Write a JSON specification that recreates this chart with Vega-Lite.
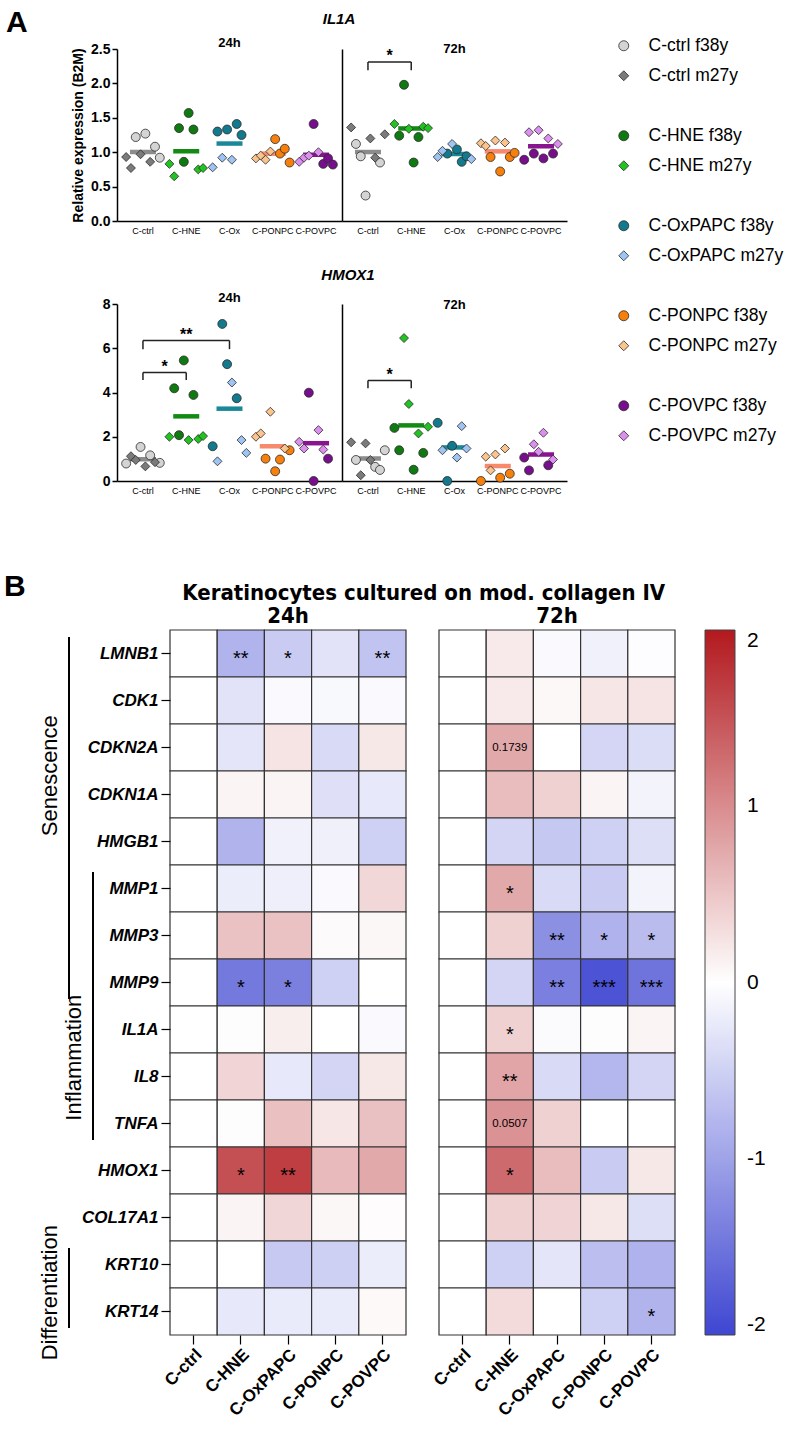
{
"$schema": "https://vega.github.io/schema/vega-lite/v6.json",
"padding": {"left": 3, "top": 8, "right": 0, "bottom": 0},
"config": {
  "view": {"stroke": null},
  "font": "Liberation Sans",
  "axis": {"grid": false, "labelColor": "#000", "titleColor": "#000", "domainColor": "#000", "tickColor": "#000"},
  "title": {"color": "#000"},
  "legend": {"labelColor": "#000"}
},
"datasets": {
  "scatter": [
    {"gene":"IL1A","time":"24h","group":"C-ctrl","series":"C-ctrl f38y","rep":3,"value":1.22},
    {"gene":"IL1A","time":"24h","group":"C-ctrl","series":"C-ctrl f38y","rep":5,"value":1.27},
    {"gene":"IL1A","time":"24h","group":"C-ctrl","series":"C-ctrl f38y","rep":7,"value":1.08},
    {"gene":"IL1A","time":"24h","group":"C-ctrl","series":"C-ctrl f38y","rep":8,"value":0.92},
    {"gene":"IL1A","time":"24h","group":"C-ctrl","series":"C-ctrl m27y","rep":1,"value":0.93},
    {"gene":"IL1A","time":"24h","group":"C-ctrl","series":"C-ctrl m27y","rep":2,"value":0.77},
    {"gene":"IL1A","time":"24h","group":"C-ctrl","series":"C-ctrl m27y","rep":4,"value":0.97},
    {"gene":"IL1A","time":"24h","group":"C-ctrl","series":"C-ctrl m27y","rep":6,"value":0.86},
    {"gene":"IL1A","time":"24h","group":"C-HNE","series":"C-HNE f38y","rep":3,"value":1.35},
    {"gene":"IL1A","time":"24h","group":"C-HNE","series":"C-HNE f38y","rep":4,"value":0.86},
    {"gene":"IL1A","time":"24h","group":"C-HNE","series":"C-HNE f38y","rep":5,"value":1.57},
    {"gene":"IL1A","time":"24h","group":"C-HNE","series":"C-HNE f38y","rep":6,"value":1.33},
    {"gene":"IL1A","time":"24h","group":"C-HNE","series":"C-HNE m27y","rep":1,"value":0.83},
    {"gene":"IL1A","time":"24h","group":"C-HNE","series":"C-HNE m27y","rep":2,"value":0.65},
    {"gene":"IL1A","time":"24h","group":"C-HNE","series":"C-HNE m27y","rep":7,"value":0.75},
    {"gene":"IL1A","time":"24h","group":"C-HNE","series":"C-HNE m27y","rep":8,"value":0.77},
    {"gene":"IL1A","time":"24h","group":"C-Ox","series":"C-OxPAPC f38y","rep":2,"value":1.30},
    {"gene":"IL1A","time":"24h","group":"C-Ox","series":"C-OxPAPC f38y","rep":4,"value":1.33},
    {"gene":"IL1A","time":"24h","group":"C-Ox","series":"C-OxPAPC f38y","rep":6,"value":1.41},
    {"gene":"IL1A","time":"24h","group":"C-Ox","series":"C-OxPAPC f38y","rep":7,"value":1.25},
    {"gene":"IL1A","time":"24h","group":"C-Ox","series":"C-OxPAPC m27y","rep":1,"value":0.78},
    {"gene":"IL1A","time":"24h","group":"C-Ox","series":"C-OxPAPC m27y","rep":3,"value":0.92},
    {"gene":"IL1A","time":"24h","group":"C-Ox","series":"C-OxPAPC m27y","rep":5,"value":0.89},
    {"gene":"IL1A","time":"24h","group":"C-PONPC","series":"C-PONPC f38y","rep":5,"value":1.19},
    {"gene":"IL1A","time":"24h","group":"C-PONPC","series":"C-PONPC f38y","rep":6,"value":0.98},
    {"gene":"IL1A","time":"24h","group":"C-PONPC","series":"C-PONPC f38y","rep":7,"value":1.05},
    {"gene":"IL1A","time":"24h","group":"C-PONPC","series":"C-PONPC f38y","rep":8,"value":0.85},
    {"gene":"IL1A","time":"24h","group":"C-PONPC","series":"C-PONPC m27y","rep":1,"value":0.91},
    {"gene":"IL1A","time":"24h","group":"C-PONPC","series":"C-PONPC m27y","rep":2,"value":0.95},
    {"gene":"IL1A","time":"24h","group":"C-PONPC","series":"C-PONPC m27y","rep":3,"value":0.89},
    {"gene":"IL1A","time":"24h","group":"C-PONPC","series":"C-PONPC m27y","rep":4,"value":1.01},
    {"gene":"IL1A","time":"24h","group":"C-POVPC","series":"C-POVPC f38y","rep":4,"value":1.41},
    {"gene":"IL1A","time":"24h","group":"C-POVPC","series":"C-POVPC f38y","rep":6,"value":0.83},
    {"gene":"IL1A","time":"24h","group":"C-POVPC","series":"C-POVPC f38y","rep":7,"value":0.91},
    {"gene":"IL1A","time":"24h","group":"C-POVPC","series":"C-POVPC f38y","rep":8,"value":0.82},
    {"gene":"IL1A","time":"24h","group":"C-POVPC","series":"C-POVPC m27y","rep":1,"value":0.86},
    {"gene":"IL1A","time":"24h","group":"C-POVPC","series":"C-POVPC m27y","rep":2,"value":0.92},
    {"gene":"IL1A","time":"24h","group":"C-POVPC","series":"C-POVPC m27y","rep":3,"value":0.95},
    {"gene":"IL1A","time":"24h","group":"C-POVPC","series":"C-POVPC m27y","rep":5,"value":1.00},
    {"gene":"IL1A","time":"72h","group":"C-ctrl","series":"C-ctrl f38y","rep":2,"value":1.12},
    {"gene":"IL1A","time":"72h","group":"C-ctrl","series":"C-ctrl f38y","rep":3,"value":0.94},
    {"gene":"IL1A","time":"72h","group":"C-ctrl","series":"C-ctrl f38y","rep":4,"value":0.37},
    {"gene":"IL1A","time":"72h","group":"C-ctrl","series":"C-ctrl f38y","rep":7,"value":0.85},
    {"gene":"IL1A","time":"72h","group":"C-ctrl","series":"C-ctrl m27y","rep":1,"value":1.36},
    {"gene":"IL1A","time":"72h","group":"C-ctrl","series":"C-ctrl m27y","rep":5,"value":1.20},
    {"gene":"IL1A","time":"72h","group":"C-ctrl","series":"C-ctrl m27y","rep":6,"value":0.92},
    {"gene":"IL1A","time":"72h","group":"C-ctrl","series":"C-ctrl m27y","rep":8,"value":1.26},
    {"gene":"IL1A","time":"72h","group":"C-HNE","series":"C-HNE f38y","rep":2,"value":1.24},
    {"gene":"IL1A","time":"72h","group":"C-HNE","series":"C-HNE f38y","rep":3,"value":1.98},
    {"gene":"IL1A","time":"72h","group":"C-HNE","series":"C-HNE f38y","rep":5,"value":0.85},
    {"gene":"IL1A","time":"72h","group":"C-HNE","series":"C-HNE f38y","rep":6,"value":1.22},
    {"gene":"IL1A","time":"72h","group":"C-HNE","series":"C-HNE m27y","rep":1,"value":1.41},
    {"gene":"IL1A","time":"72h","group":"C-HNE","series":"C-HNE m27y","rep":4,"value":1.34},
    {"gene":"IL1A","time":"72h","group":"C-HNE","series":"C-HNE m27y","rep":7,"value":1.37},
    {"gene":"IL1A","time":"72h","group":"C-HNE","series":"C-HNE m27y","rep":8,"value":1.35},
    {"gene":"IL1A","time":"72h","group":"C-Ox","series":"C-OxPAPC f38y","rep":3,"value":0.98},
    {"gene":"IL1A","time":"72h","group":"C-Ox","series":"C-OxPAPC f38y","rep":5,"value":1.04},
    {"gene":"IL1A","time":"72h","group":"C-Ox","series":"C-OxPAPC f38y","rep":6,"value":0.86},
    {"gene":"IL1A","time":"72h","group":"C-Ox","series":"C-OxPAPC f38y","rep":7,"value":0.94},
    {"gene":"IL1A","time":"72h","group":"C-Ox","series":"C-OxPAPC m27y","rep":1,"value":0.93},
    {"gene":"IL1A","time":"72h","group":"C-Ox","series":"C-OxPAPC m27y","rep":2,"value":1.02},
    {"gene":"IL1A","time":"72h","group":"C-Ox","series":"C-OxPAPC m27y","rep":4,"value":1.12},
    {"gene":"IL1A","time":"72h","group":"C-Ox","series":"C-OxPAPC m27y","rep":8,"value":0.90},
    {"gene":"IL1A","time":"72h","group":"C-PONPC","series":"C-PONPC f38y","rep":3,"value":0.93},
    {"gene":"IL1A","time":"72h","group":"C-PONPC","series":"C-PONPC f38y","rep":5,"value":0.72},
    {"gene":"IL1A","time":"72h","group":"C-PONPC","series":"C-PONPC f38y","rep":7,"value":0.93},
    {"gene":"IL1A","time":"72h","group":"C-PONPC","series":"C-PONPC f38y","rep":8,"value":0.99},
    {"gene":"IL1A","time":"72h","group":"C-PONPC","series":"C-PONPC m27y","rep":1,"value":1.13},
    {"gene":"IL1A","time":"72h","group":"C-PONPC","series":"C-PONPC m27y","rep":2,"value":1.09},
    {"gene":"IL1A","time":"72h","group":"C-PONPC","series":"C-PONPC m27y","rep":4,"value":1.17},
    {"gene":"IL1A","time":"72h","group":"C-PONPC","series":"C-PONPC m27y","rep":6,"value":1.14},
    {"gene":"IL1A","time":"72h","group":"C-POVPC","series":"C-POVPC f38y","rep":1,"value":0.89},
    {"gene":"IL1A","time":"72h","group":"C-POVPC","series":"C-POVPC f38y","rep":3,"value":0.98},
    {"gene":"IL1A","time":"72h","group":"C-POVPC","series":"C-POVPC f38y","rep":5,"value":0.91},
    {"gene":"IL1A","time":"72h","group":"C-POVPC","series":"C-POVPC f38y","rep":7,"value":0.98},
    {"gene":"IL1A","time":"72h","group":"C-POVPC","series":"C-POVPC m27y","rep":2,"value":1.29},
    {"gene":"IL1A","time":"72h","group":"C-POVPC","series":"C-POVPC m27y","rep":4,"value":1.32},
    {"gene":"IL1A","time":"72h","group":"C-POVPC","series":"C-POVPC m27y","rep":6,"value":1.20},
    {"gene":"IL1A","time":"72h","group":"C-POVPC","series":"C-POVPC m27y","rep":8,"value":1.12},
    {"gene":"HMOX1","time":"24h","group":"C-ctrl","series":"C-ctrl f38y","rep":1,"value":0.79},
    {"gene":"HMOX1","time":"24h","group":"C-ctrl","series":"C-ctrl f38y","rep":4,"value":1.54},
    {"gene":"HMOX1","time":"24h","group":"C-ctrl","series":"C-ctrl f38y","rep":6,"value":1.16},
    {"gene":"HMOX1","time":"24h","group":"C-ctrl","series":"C-ctrl f38y","rep":8,"value":0.82},
    {"gene":"HMOX1","time":"24h","group":"C-ctrl","series":"C-ctrl m27y","rep":2,"value":1.12},
    {"gene":"HMOX1","time":"24h","group":"C-ctrl","series":"C-ctrl m27y","rep":3,"value":0.95},
    {"gene":"HMOX1","time":"24h","group":"C-ctrl","series":"C-ctrl m27y","rep":5,"value":0.66},
    {"gene":"HMOX1","time":"24h","group":"C-ctrl","series":"C-ctrl m27y","rep":7,"value":0.85},
    {"gene":"HMOX1","time":"24h","group":"C-HNE","series":"C-HNE f38y","rep":2,"value":4.19},
    {"gene":"HMOX1","time":"24h","group":"C-HNE","series":"C-HNE f38y","rep":3,"value":2.07},
    {"gene":"HMOX1","time":"24h","group":"C-HNE","series":"C-HNE f38y","rep":4,"value":5.45},
    {"gene":"HMOX1","time":"24h","group":"C-HNE","series":"C-HNE f38y","rep":6,"value":3.89},
    {"gene":"HMOX1","time":"24h","group":"C-HNE","series":"C-HNE m27y","rep":1,"value":2.00},
    {"gene":"HMOX1","time":"24h","group":"C-HNE","series":"C-HNE m27y","rep":5,"value":1.85},
    {"gene":"HMOX1","time":"24h","group":"C-HNE","series":"C-HNE m27y","rep":7,"value":1.90},
    {"gene":"HMOX1","time":"24h","group":"C-HNE","series":"C-HNE m27y","rep":8,"value":2.03},
    {"gene":"HMOX1","time":"24h","group":"C-Ox","series":"C-OxPAPC f38y","rep":1,"value":1.57},
    {"gene":"HMOX1","time":"24h","group":"C-Ox","series":"C-OxPAPC f38y","rep":3,"value":7.10},
    {"gene":"HMOX1","time":"24h","group":"C-Ox","series":"C-OxPAPC f38y","rep":4,"value":5.28},
    {"gene":"HMOX1","time":"24h","group":"C-Ox","series":"C-OxPAPC f38y","rep":6,"value":3.74},
    {"gene":"HMOX1","time":"24h","group":"C-Ox","series":"C-OxPAPC m27y","rep":2,"value":0.89},
    {"gene":"HMOX1","time":"24h","group":"C-Ox","series":"C-OxPAPC m27y","rep":5,"value":4.45},
    {"gene":"HMOX1","time":"24h","group":"C-Ox","series":"C-OxPAPC m27y","rep":7,"value":1.85},
    {"gene":"HMOX1","time":"24h","group":"C-Ox","series":"C-OxPAPC m27y","rep":8,"value":1.27},
    {"gene":"HMOX1","time":"24h","group":"C-PONPC","series":"C-PONPC f38y","rep":3,"value":1.01},
    {"gene":"HMOX1","time":"24h","group":"C-PONPC","series":"C-PONPC f38y","rep":5,"value":0.44},
    {"gene":"HMOX1","time":"24h","group":"C-PONPC","series":"C-PONPC f38y","rep":6,"value":0.97},
    {"gene":"HMOX1","time":"24h","group":"C-PONPC","series":"C-PONPC f38y","rep":8,"value":1.39},
    {"gene":"HMOX1","time":"24h","group":"C-PONPC","series":"C-PONPC m27y","rep":1,"value":2.00},
    {"gene":"HMOX1","time":"24h","group":"C-PONPC","series":"C-PONPC m27y","rep":2,"value":2.15},
    {"gene":"HMOX1","time":"24h","group":"C-PONPC","series":"C-PONPC m27y","rep":4,"value":3.13},
    {"gene":"HMOX1","time":"24h","group":"C-PONPC","series":"C-PONPC m27y","rep":7,"value":1.47},
    {"gene":"HMOX1","time":"24h","group":"C-POVPC","series":"C-POVPC f38y","rep":3,"value":3.99},
    {"gene":"HMOX1","time":"24h","group":"C-POVPC","series":"C-POVPC f38y","rep":4,"value":0.0},
    {"gene":"HMOX1","time":"24h","group":"C-POVPC","series":"C-POVPC f38y","rep":7,"value":1.01},
    {"gene":"HMOX1","time":"24h","group":"C-POVPC","series":"C-POVPC m27y","rep":1,"value":1.77},
    {"gene":"HMOX1","time":"24h","group":"C-POVPC","series":"C-POVPC m27y","rep":2,"value":1.47},
    {"gene":"HMOX1","time":"24h","group":"C-POVPC","series":"C-POVPC m27y","rep":5,"value":2.30},
    {"gene":"HMOX1","time":"24h","group":"C-POVPC","series":"C-POVPC m27y","rep":6,"value":1.42},
    {"gene":"HMOX1","time":"72h","group":"C-ctrl","series":"C-ctrl f38y","rep":2,"value":0.95},
    {"gene":"HMOX1","time":"72h","group":"C-ctrl","series":"C-ctrl f38y","rep":6,"value":0.64},
    {"gene":"HMOX1","time":"72h","group":"C-ctrl","series":"C-ctrl f38y","rep":7,"value":0.50},
    {"gene":"HMOX1","time":"72h","group":"C-ctrl","series":"C-ctrl f38y","rep":8,"value":1.39},
    {"gene":"HMOX1","time":"72h","group":"C-ctrl","series":"C-ctrl m27y","rep":1,"value":1.75},
    {"gene":"HMOX1","time":"72h","group":"C-ctrl","series":"C-ctrl m27y","rep":3,"value":0.26},
    {"gene":"HMOX1","time":"72h","group":"C-ctrl","series":"C-ctrl m27y","rep":4,"value":1.70},
    {"gene":"HMOX1","time":"72h","group":"C-ctrl","series":"C-ctrl m27y","rep":5,"value":0.95},
    {"gene":"HMOX1","time":"72h","group":"C-HNE","series":"C-HNE f38y","rep":1,"value":2.40},
    {"gene":"HMOX1","time":"72h","group":"C-HNE","series":"C-HNE f38y","rep":2,"value":1.39},
    {"gene":"HMOX1","time":"72h","group":"C-HNE","series":"C-HNE f38y","rep":5,"value":0.51},
    {"gene":"HMOX1","time":"72h","group":"C-HNE","series":"C-HNE f38y","rep":7,"value":1.27},
    {"gene":"HMOX1","time":"72h","group":"C-HNE","series":"C-HNE m27y","rep":3,"value":6.46},
    {"gene":"HMOX1","time":"72h","group":"C-HNE","series":"C-HNE m27y","rep":4,"value":3.48},
    {"gene":"HMOX1","time":"72h","group":"C-HNE","series":"C-HNE m27y","rep":6,"value":2.15},
    {"gene":"HMOX1","time":"72h","group":"C-HNE","series":"C-HNE m27y","rep":8,"value":2.45},
    {"gene":"HMOX1","time":"72h","group":"C-Ox","series":"C-OxPAPC f38y","rep":1,"value":2.63},
    {"gene":"HMOX1","time":"72h","group":"C-Ox","series":"C-OxPAPC f38y","rep":3,"value":0.0},
    {"gene":"HMOX1","time":"72h","group":"C-Ox","series":"C-OxPAPC f38y","rep":4,"value":1.59},
    {"gene":"HMOX1","time":"72h","group":"C-Ox","series":"C-OxPAPC m27y","rep":2,"value":1.39},
    {"gene":"HMOX1","time":"72h","group":"C-Ox","series":"C-OxPAPC m27y","rep":5,"value":1.06},
    {"gene":"HMOX1","time":"72h","group":"C-Ox","series":"C-OxPAPC m27y","rep":6,"value":2.48},
    {"gene":"HMOX1","time":"72h","group":"C-Ox","series":"C-OxPAPC m27y","rep":7,"value":1.47},
    {"gene":"HMOX1","time":"72h","group":"C-PONPC","series":"C-PONPC f38y","rep":1,"value":0.0},
    {"gene":"HMOX1","time":"72h","group":"C-PONPC","series":"C-PONPC f38y","rep":5,"value":0.15},
    {"gene":"HMOX1","time":"72h","group":"C-PONPC","series":"C-PONPC f38y","rep":7,"value":0.33},
    {"gene":"HMOX1","time":"72h","group":"C-PONPC","series":"C-PONPC m27y","rep":2,"value":1.10},
    {"gene":"HMOX1","time":"72h","group":"C-PONPC","series":"C-PONPC m27y","rep":3,"value":0.48},
    {"gene":"HMOX1","time":"72h","group":"C-PONPC","series":"C-PONPC m27y","rep":4,"value":1.20},
    {"gene":"HMOX1","time":"72h","group":"C-PONPC","series":"C-PONPC m27y","rep":6,"value":1.47},
    {"gene":"HMOX1","time":"72h","group":"C-POVPC","series":"C-POVPC f38y","rep":1,"value":1.06},
    {"gene":"HMOX1","time":"72h","group":"C-POVPC","series":"C-POVPC f38y","rep":2,"value":0.48},
    {"gene":"HMOX1","time":"72h","group":"C-POVPC","series":"C-POVPC f38y","rep":6,"value":0.71},
    {"gene":"HMOX1","time":"72h","group":"C-POVPC","series":"C-POVPC m27y","rep":3,"value":1.66},
    {"gene":"HMOX1","time":"72h","group":"C-POVPC","series":"C-POVPC m27y","rep":4,"value":1.32},
    {"gene":"HMOX1","time":"72h","group":"C-POVPC","series":"C-POVPC m27y","rep":5,"value":2.18},
    {"gene":"HMOX1","time":"72h","group":"C-POVPC","series":"C-POVPC m27y","rep":7,"value":0.97}
  ],
  "brackets": [
    {"gene":"IL1A","time":"72h","from":"C-ctrl","to":"C-HNE","mid":"C-ctrl","span":1,"y":2.31,"ydrop":2.19,"label":"*"},
    {"gene":"HMOX1","time":"24h","from":"C-ctrl","to":"C-HNE","mid":"C-ctrl","span":1,"y":4.9,"ydrop":4.57,"label":"*"},
    {"gene":"HMOX1","time":"24h","from":"C-ctrl","to":"C-Ox","mid":"C-HNE","span":2,"y":6.35,"ydrop":5.96,"label":"**"},
    {"gene":"HMOX1","time":"72h","from":"C-ctrl","to":"C-HNE","mid":"C-ctrl","span":1,"y":4.54,"ydrop":4.19,"label":"*"}
  ],
  "annot": [
    {"name":"Senescence","level":1,"start":"LMNB1","end":"MMP9","textrow":"CDKN1A"},
    {"name":"Inflammation","level":2,"start":"MMP1","end":"TNFA","textrow":"IL8"},
    {"name":"Differentiation","level":1,"start":"KRT10","end":"KRT14","textrow":"KRT14"}
  ],
  "heatsig": [
    {"time":"24h","treatment":"C-HNE","gene":"LMNB1","label":"**"},
    {"time":"24h","treatment":"C-OxPAPC","gene":"LMNB1","label":"*"},
    {"time":"24h","treatment":"C-POVPC","gene":"LMNB1","label":"**"},
    {"time":"24h","treatment":"C-HNE","gene":"MMP9","label":"*"},
    {"time":"24h","treatment":"C-OxPAPC","gene":"MMP9","label":"*"},
    {"time":"24h","treatment":"C-HNE","gene":"HMOX1","label":"*"},
    {"time":"24h","treatment":"C-OxPAPC","gene":"HMOX1","label":"**"},
    {"time":"72h","treatment":"C-HNE","gene":"CDKN2A","label":"0.1739"},
    {"time":"72h","treatment":"C-HNE","gene":"MMP1","label":"*"},
    {"time":"72h","treatment":"C-OxPAPC","gene":"MMP3","label":"**"},
    {"time":"72h","treatment":"C-PONPC","gene":"MMP3","label":"*"},
    {"time":"72h","treatment":"C-POVPC","gene":"MMP3","label":"*"},
    {"time":"72h","treatment":"C-OxPAPC","gene":"MMP9","label":"**"},
    {"time":"72h","treatment":"C-PONPC","gene":"MMP9","label":"***"},
    {"time":"72h","treatment":"C-POVPC","gene":"MMP9","label":"***"},
    {"time":"72h","treatment":"C-HNE","gene":"IL1A","label":"*"},
    {"time":"72h","treatment":"C-HNE","gene":"IL8","label":"**"},
    {"time":"72h","treatment":"C-HNE","gene":"TNFA","label":"0.0507"},
    {"time":"72h","treatment":"C-HNE","gene":"HMOX1","label":"*"},
    {"time":"72h","treatment":"C-POVPC","gene":"KRT14","label":"*"}
  ],
  "heat": [
    {"time":"24h","treatment":"C-ctrl","gene":"LMNB1","value":0},{"time":"24h","treatment":"C-HNE","gene":"LMNB1","value":-0.82},{"time":"24h","treatment":"C-OxPAPC","gene":"LMNB1","value":-0.56},{"time":"24h","treatment":"C-PONPC","gene":"LMNB1","value":-0.3},{"time":"24h","treatment":"C-POVPC","gene":"LMNB1","value":-0.65},
    {"time":"72h","treatment":"C-ctrl","gene":"LMNB1","value":0},{"time":"72h","treatment":"C-HNE","gene":"LMNB1","value":0.19},{"time":"72h","treatment":"C-OxPAPC","gene":"LMNB1","value":-0.05},{"time":"72h","treatment":"C-PONPC","gene":"LMNB1","value":-0.15},{"time":"72h","treatment":"C-POVPC","gene":"LMNB1","value":-0.02},
    {"time":"24h","treatment":"C-ctrl","gene":"CDK1","value":0},{"time":"24h","treatment":"C-HNE","gene":"CDK1","value":-0.3},{"time":"24h","treatment":"C-OxPAPC","gene":"CDK1","value":-0.06},{"time":"24h","treatment":"C-PONPC","gene":"CDK1","value":-0.07},{"time":"24h","treatment":"C-POVPC","gene":"CDK1","value":-0.05},
    {"time":"72h","treatment":"C-ctrl","gene":"CDK1","value":0},{"time":"72h","treatment":"C-HNE","gene":"CDK1","value":0.18},{"time":"72h","treatment":"C-OxPAPC","gene":"CDK1","value":0.06},{"time":"72h","treatment":"C-PONPC","gene":"CDK1","value":0.22},{"time":"72h","treatment":"C-POVPC","gene":"CDK1","value":0.24},
    {"time":"24h","treatment":"C-ctrl","gene":"CDKN2A","value":0},{"time":"24h","treatment":"C-HNE","gene":"CDKN2A","value":-0.28},{"time":"24h","treatment":"C-OxPAPC","gene":"CDKN2A","value":0.24},{"time":"24h","treatment":"C-PONPC","gene":"CDKN2A","value":-0.4},{"time":"24h","treatment":"C-POVPC","gene":"CDKN2A","value":0.2},
    {"time":"72h","treatment":"C-ctrl","gene":"CDKN2A","value":0},{"time":"72h","treatment":"C-HNE","gene":"CDKN2A","value":0.75},{"time":"72h","treatment":"C-OxPAPC","gene":"CDKN2A","value":0},{"time":"72h","treatment":"C-PONPC","gene":"CDKN2A","value":-0.44},{"time":"72h","treatment":"C-POVPC","gene":"CDKN2A","value":-0.38},
    {"time":"24h","treatment":"C-ctrl","gene":"CDKN1A","value":0},{"time":"24h","treatment":"C-HNE","gene":"CDKN1A","value":0.1},{"time":"24h","treatment":"C-OxPAPC","gene":"CDKN1A","value":0.1},{"time":"24h","treatment":"C-PONPC","gene":"CDKN1A","value":-0.33},{"time":"24h","treatment":"C-POVPC","gene":"CDKN1A","value":-0.25},
    {"time":"72h","treatment":"C-ctrl","gene":"CDKN1A","value":0},{"time":"72h","treatment":"C-HNE","gene":"CDKN1A","value":0.58},{"time":"72h","treatment":"C-OxPAPC","gene":"CDKN1A","value":0.4},{"time":"72h","treatment":"C-PONPC","gene":"CDKN1A","value":0.1},{"time":"72h","treatment":"C-POVPC","gene":"CDKN1A","value":-0.13},
    {"time":"24h","treatment":"C-ctrl","gene":"HMGB1","value":0},{"time":"24h","treatment":"C-HNE","gene":"HMGB1","value":-0.82},{"time":"24h","treatment":"C-OxPAPC","gene":"HMGB1","value":-0.15},{"time":"24h","treatment":"C-PONPC","gene":"HMGB1","value":-0.16},{"time":"24h","treatment":"C-POVPC","gene":"HMGB1","value":-0.5},
    {"time":"72h","treatment":"C-ctrl","gene":"HMGB1","value":0},{"time":"72h","treatment":"C-HNE","gene":"HMGB1","value":-0.45},{"time":"72h","treatment":"C-OxPAPC","gene":"HMGB1","value":-0.6},{"time":"72h","treatment":"C-PONPC","gene":"HMGB1","value":-0.5},{"time":"72h","treatment":"C-POVPC","gene":"HMGB1","value":-0.35},
    {"time":"24h","treatment":"C-ctrl","gene":"MMP1","value":0},{"time":"24h","treatment":"C-HNE","gene":"MMP1","value":-0.2},{"time":"24h","treatment":"C-OxPAPC","gene":"MMP1","value":-0.17},{"time":"24h","treatment":"C-PONPC","gene":"MMP1","value":-0.05},{"time":"24h","treatment":"C-POVPC","gene":"MMP1","value":0.35},
    {"time":"72h","treatment":"C-ctrl","gene":"MMP1","value":0},{"time":"72h","treatment":"C-HNE","gene":"MMP1","value":0.75},{"time":"72h","treatment":"C-OxPAPC","gene":"MMP1","value":-0.4},{"time":"72h","treatment":"C-PONPC","gene":"MMP1","value":-0.56},{"time":"72h","treatment":"C-POVPC","gene":"MMP1","value":-0.13},
    {"time":"24h","treatment":"C-ctrl","gene":"MMP3","value":0},{"time":"24h","treatment":"C-HNE","gene":"MMP3","value":0.53},{"time":"24h","treatment":"C-OxPAPC","gene":"MMP3","value":0.53},{"time":"24h","treatment":"C-PONPC","gene":"MMP3","value":0.04},{"time":"24h","treatment":"C-POVPC","gene":"MMP3","value":0.07},
    {"time":"72h","treatment":"C-ctrl","gene":"MMP3","value":0},{"time":"72h","treatment":"C-HNE","gene":"MMP3","value":0.4},{"time":"72h","treatment":"C-OxPAPC","gene":"MMP3","value":-1.2},{"time":"72h","treatment":"C-PONPC","gene":"MMP3","value":-0.83},{"time":"72h","treatment":"C-POVPC","gene":"MMP3","value":-0.72},
    {"time":"24h","treatment":"C-ctrl","gene":"MMP9","value":0},{"time":"24h","treatment":"C-HNE","gene":"MMP9","value":-1.45},{"time":"24h","treatment":"C-OxPAPC","gene":"MMP9","value":-1.37},{"time":"24h","treatment":"C-PONPC","gene":"MMP9","value":-0.5},{"time":"24h","treatment":"C-POVPC","gene":"MMP9","value":0},
    {"time":"72h","treatment":"C-ctrl","gene":"MMP9","value":0},{"time":"72h","treatment":"C-HNE","gene":"MMP9","value":-0.45},{"time":"72h","treatment":"C-OxPAPC","gene":"MMP9","value":-1.38},{"time":"72h","treatment":"C-PONPC","gene":"MMP9","value":-1.86},{"time":"72h","treatment":"C-POVPC","gene":"MMP9","value":-1.5},
    {"time":"24h","treatment":"C-ctrl","gene":"IL1A","value":0},{"time":"24h","treatment":"C-HNE","gene":"IL1A","value":0.02},{"time":"24h","treatment":"C-OxPAPC","gene":"IL1A","value":0.15},{"time":"24h","treatment":"C-PONPC","gene":"IL1A","value":0},{"time":"24h","treatment":"C-POVPC","gene":"IL1A","value":-0.06},
    {"time":"72h","treatment":"C-ctrl","gene":"IL1A","value":0},{"time":"72h","treatment":"C-HNE","gene":"IL1A","value":0.4},{"time":"72h","treatment":"C-OxPAPC","gene":"IL1A","value":-0.04},{"time":"72h","treatment":"C-PONPC","gene":"IL1A","value":0.02},{"time":"72h","treatment":"C-POVPC","gene":"IL1A","value":0.1},
    {"time":"24h","treatment":"C-ctrl","gene":"IL8","value":0},{"time":"24h","treatment":"C-HNE","gene":"IL8","value":0.37},{"time":"24h","treatment":"C-OxPAPC","gene":"IL8","value":-0.25},{"time":"24h","treatment":"C-PONPC","gene":"IL8","value":-0.45},{"time":"24h","treatment":"C-POVPC","gene":"IL8","value":0.2},
    {"time":"72h","treatment":"C-ctrl","gene":"IL8","value":0},{"time":"72h","treatment":"C-HNE","gene":"IL8","value":0.78},{"time":"72h","treatment":"C-OxPAPC","gene":"IL8","value":-0.4},{"time":"72h","treatment":"C-PONPC","gene":"IL8","value":-0.78},{"time":"72h","treatment":"C-POVPC","gene":"IL8","value":-0.45},
    {"time":"24h","treatment":"C-ctrl","gene":"TNFA","value":0},{"time":"24h","treatment":"C-HNE","gene":"TNFA","value":0.02},{"time":"24h","treatment":"C-OxPAPC","gene":"TNFA","value":0.55},{"time":"24h","treatment":"C-PONPC","gene":"TNFA","value":0.22},{"time":"24h","treatment":"C-POVPC","gene":"TNFA","value":0.54},
    {"time":"72h","treatment":"C-ctrl","gene":"TNFA","value":0},{"time":"72h","treatment":"C-HNE","gene":"TNFA","value":0.95},{"time":"72h","treatment":"C-OxPAPC","gene":"TNFA","value":0.4},{"time":"72h","treatment":"C-PONPC","gene":"TNFA","value":0},{"time":"72h","treatment":"C-POVPC","gene":"TNFA","value":0},
    {"time":"24h","treatment":"C-ctrl","gene":"HMOX1","value":0},{"time":"24h","treatment":"C-HNE","gene":"HMOX1","value":1.52},{"time":"24h","treatment":"C-OxPAPC","gene":"HMOX1","value":1.68},{"time":"24h","treatment":"C-PONPC","gene":"HMOX1","value":0.6},{"time":"24h","treatment":"C-POVPC","gene":"HMOX1","value":0.75},
    {"time":"72h","treatment":"C-ctrl","gene":"HMOX1","value":0},{"time":"72h","treatment":"C-HNE","gene":"HMOX1","value":1.3},{"time":"72h","treatment":"C-OxPAPC","gene":"HMOX1","value":0.58},{"time":"72h","treatment":"C-PONPC","gene":"HMOX1","value":-0.56},{"time":"72h","treatment":"C-POVPC","gene":"HMOX1","value":0.2},
    {"time":"24h","treatment":"C-ctrl","gene":"COL17A1","value":0},{"time":"24h","treatment":"C-HNE","gene":"COL17A1","value":0.1},{"time":"24h","treatment":"C-OxPAPC","gene":"COL17A1","value":0.36},{"time":"24h","treatment":"C-PONPC","gene":"COL17A1","value":0.07},{"time":"24h","treatment":"C-POVPC","gene":"COL17A1","value":0.03},
    {"time":"72h","treatment":"C-ctrl","gene":"COL17A1","value":0},{"time":"72h","treatment":"C-HNE","gene":"COL17A1","value":0.4},{"time":"72h","treatment":"C-OxPAPC","gene":"COL17A1","value":0.38},{"time":"72h","treatment":"C-PONPC","gene":"COL17A1","value":0.2},{"time":"72h","treatment":"C-POVPC","gene":"COL17A1","value":-0.35},
    {"time":"24h","treatment":"C-ctrl","gene":"KRT10","value":0},{"time":"24h","treatment":"C-HNE","gene":"KRT10","value":0},{"time":"24h","treatment":"C-OxPAPC","gene":"KRT10","value":-0.58},{"time":"24h","treatment":"C-PONPC","gene":"KRT10","value":-0.52},{"time":"24h","treatment":"C-POVPC","gene":"KRT10","value":-0.2},
    {"time":"72h","treatment":"C-ctrl","gene":"KRT10","value":0},{"time":"72h","treatment":"C-HNE","gene":"KRT10","value":-0.5},{"time":"72h","treatment":"C-OxPAPC","gene":"KRT10","value":-0.28},{"time":"72h","treatment":"C-PONPC","gene":"KRT10","value":-0.7},{"time":"72h","treatment":"C-POVPC","gene":"KRT10","value":-0.83},
    {"time":"24h","treatment":"C-ctrl","gene":"KRT14","value":0},{"time":"24h","treatment":"C-HNE","gene":"KRT14","value":-0.25},{"time":"24h","treatment":"C-OxPAPC","gene":"KRT14","value":-0.22},{"time":"24h","treatment":"C-PONPC","gene":"KRT14","value":-0.23},{"time":"24h","treatment":"C-POVPC","gene":"KRT14","value":0.05},
    {"time":"72h","treatment":"C-ctrl","gene":"KRT14","value":0},{"time":"72h","treatment":"C-HNE","gene":"KRT14","value":0.32},{"time":"72h","treatment":"C-OxPAPC","gene":"KRT14","value":0},{"time":"72h","treatment":"C-PONPC","gene":"KRT14","value":-0.5},{"time":"72h","treatment":"C-POVPC","gene":"KRT14","value":-0.82}
  ]
},
"spacing": 77,
"align": "none",
"resolve": {"scale": {"color": "independent", "shape": "independent", "fill": "independent"}},
"vconcat": [
  {
    "title": {"text": "A", "fontSize": 30, "fontWeight": "bold", "anchor": "start", "frame": "bounds", "dx": -63, "dy": 26, "offset": 0},
    "spacing": 0,
    "hconcat": [
      {"width": 2, "height": 1, "data": {"values": []}, "mark": "point", "encoding": {}},
      {
        "spacing": 33,
        "vconcat": [
          {
            "title": {"text": "IL1A", "fontSize": 15, "fontWeight": "bold", "fontStyle": "italic", "anchor": "middle", "frame": "bounds", "dx": 20, "offset": 10},
            "spacing": 0,
            "hconcat": [
              {
                "width": 225, "height": 172,
                "title": {"text": "24h", "fontSize": 13, "fontWeight": "bold", "frame": "group", "anchor": "middle", "offset": -8},
                "layer": [
                  {
                    "data": {"name": "scatter"},
                    "transform": [{"filter": "datum.gene == 'IL1A' && datum.time == '24h'"}],
                    "layer": [
                      {"mark": {"type": "tick", "thickness": 4.5, "size": 26},
                       "encoding": {
                        "x": {"field": "group", "type": "nominal", "title": null, "scale": {"type": "band", "domain": ["C-ctrl","C-HNE","C-Ox","C-PONPC","C-POVPC"], "paddingInner": 0, "paddingOuter": 0.1}, "axis": {"labelFontSize": 9, "labelPadding": 5, "ticks": false, "domainWidth": 1.5, "labelAngle": 0}},
                        "y": {"aggregate": "mean", "field": "value", "type": "quantitative", "title": "Relative expression (B2M)", "scale": {"domain": [0, 2.5], "nice": false}, "axis": {"values": [0,0.5,1,1.5,2,2.5], "tickCount": 6, "format": ".1f", "labelOverlap": false, "labelFontSize": 14, "labelFontWeight": "bold", "titleFontSize": 14, "titleFontWeight": "bold", "tickSize": 5, "tickWidth": 1.5, "domainWidth": 1.5, "labelPadding": 2, "titlePadding": 4, "minExtent": 28, "maxExtent": 28}},
                        "fill": {"field": "group", "type": "nominal", "scale": {"domain": ["C-ctrl","C-HNE","C-Ox","C-PONPC","C-POVPC"], "range": ["#8c8c8c","#138b13","#1b889a","#f7896c","#88148f"]}, "legend": null}
                       }},
                      {"mark": {"type": "point", "filled": true, "opacity": 1, "stroke": "#2b2b2b", "strokeWidth": 0.8, "size": 80},
                       "encoding": {
                        "x": {"field": "group", "type": "nominal", "title": null},
                        "xOffset": {"field": "rep", "type": "ordinal", "scale": {"domain": [1,2,3,4,5,6,7,8], "paddingOuter": 3}},
                        "y": {"field": "value", "type": "quantitative", "title": "Relative expression (B2M)", "axis": {"values": [0,0.5,1,1.5,2,2.5], "tickCount": 6, "format": ".1f", "labelOverlap": false, "labelFontSize": 14, "labelFontWeight": "bold", "titleFontSize": 14, "titleFontWeight": "bold", "tickSize": 5, "tickWidth": 1.5, "domainWidth": 1.5, "labelPadding": 2, "titlePadding": 4, "minExtent": 28, "maxExtent": 28}},
                        "color": {"field": "series", "type": "nominal", "scale": {"domain": ["C-ctrl f38y","C-ctrl m27y","gap1","C-HNE f38y","C-HNE m27y","gap2","C-OxPAPC f38y","C-OxPAPC m27y","gap3","C-PONPC f38y","C-PONPC m27y","gap4","C-POVPC f38y","C-POVPC m27y"], "range": ["#d4d4d4","#7b7b7b","#ffffff","#0e7a10","#21c321","#ffffff","#127a8c","#9dc4f3","#ffffff","#f7800d","#fbc48d","#ffffff","#770e8b","#dd8ff0"]}, "legend": {"title": null, "orient": "none", "legendX": 546, "legendY": -12, "padding": 0, "labelFontSize": 17.5, "labelOffset": 16, "labelLimit": 300, "symbolSize": 100, "rowPadding": 11, "symbolStrokeColor": "#2b2b2b", "symbolStrokeWidth": 0.8, "labelExpr": "indexof(datum.label, 'gap') == 0 ? '' : datum.label"}},
                        "shape": {"field": "series", "type": "nominal", "scale": {"domain": ["C-ctrl f38y","C-ctrl m27y","gap1","C-HNE f38y","C-HNE m27y","gap2","C-OxPAPC f38y","C-OxPAPC m27y","gap3","C-PONPC f38y","C-PONPC m27y","gap4","C-POVPC f38y","C-POVPC m27y"], "range": ["circle","diamond","M0,0","circle","diamond","M0,0","circle","diamond","M0,0","circle","diamond","M0,0","circle","diamond"]}, "legend": {"title": null, "orient": "none", "legendX": 546, "legendY": -12, "padding": 0, "labelFontSize": 17.5, "labelOffset": 16, "labelLimit": 300, "symbolSize": 100, "rowPadding": 11, "symbolStrokeColor": "#2b2b2b", "symbolStrokeWidth": 0.8, "labelExpr": "indexof(datum.label, 'gap') == 0 ? '' : datum.label"}}
                       }}
                    ]
                  }
                ]
              },
              {
                "width": 225, "height": 172,
                "title": {"text": "72h", "fontSize": 13, "fontWeight": "bold", "frame": "group", "anchor": "middle", "offset": -8},
                "layer": [
                  {
                    "data": {"name": "scatter"},
                    "transform": [{"filter": "datum.gene == 'IL1A' && datum.time == '72h'"}],
                    "layer": [
                      {"mark": {"type": "tick", "thickness": 4.5, "size": 26},
                       "encoding": {
                        "x": {"field": "group", "type": "nominal", "title": null, "scale": {"type": "band", "domain": ["C-ctrl","C-HNE","C-Ox","C-PONPC","C-POVPC"], "paddingInner": 0, "paddingOuter": 0.1}, "axis": {"labelFontSize": 9, "labelPadding": 5, "ticks": false, "domainWidth": 1.5, "labelAngle": 0}},
                        "y": {"aggregate": "mean", "field": "value", "type": "quantitative", "title": null, "scale": {"domain": [0, 2.5], "nice": false}, "axis": {"labels": false, "ticks": false, "domainWidth": 1.5}},
                        "fill": {"field": "group", "type": "nominal", "scale": {"domain": ["C-ctrl","C-HNE","C-Ox","C-PONPC","C-POVPC"], "range": ["#8c8c8c","#138b13","#1b889a","#f7896c","#88148f"]}, "legend": null}
                       }},
                      {"mark": {"type": "point", "filled": true, "opacity": 1, "stroke": "#2b2b2b", "strokeWidth": 0.8, "size": 80},
                       "encoding": {
                        "x": {"field": "group", "type": "nominal", "title": null},
                        "xOffset": {"field": "rep", "type": "ordinal", "scale": {"domain": [1,2,3,4,5,6,7,8], "paddingOuter": 3}},
                        "y": {"field": "value", "type": "quantitative", "title": null},
                        "color": {"field": "series", "type": "nominal", "scale": {"domain": ["C-ctrl f38y","C-ctrl m27y","gap1","C-HNE f38y","C-HNE m27y","gap2","C-OxPAPC f38y","C-OxPAPC m27y","gap3","C-PONPC f38y","C-PONPC m27y","gap4","C-POVPC f38y","C-POVPC m27y"], "range": ["#d4d4d4","#7b7b7b","#ffffff","#0e7a10","#21c321","#ffffff","#127a8c","#9dc4f3","#ffffff","#f7800d","#fbc48d","#ffffff","#770e8b","#dd8ff0"]}, "legend": {"title": null, "orient": "none", "legendX": 546, "legendY": -12, "padding": 0, "labelFontSize": 17.5, "labelOffset": 16, "labelLimit": 300, "symbolSize": 100, "rowPadding": 11, "symbolStrokeColor": "#2b2b2b", "symbolStrokeWidth": 0.8, "labelExpr": "indexof(datum.label, 'gap') == 0 ? '' : datum.label"}},
                        "shape": {"field": "series", "type": "nominal", "scale": {"domain": ["C-ctrl f38y","C-ctrl m27y","gap1","C-HNE f38y","C-HNE m27y","gap2","C-OxPAPC f38y","C-OxPAPC m27y","gap3","C-PONPC f38y","C-PONPC m27y","gap4","C-POVPC f38y","C-POVPC m27y"], "range": ["circle","diamond","M0,0","circle","diamond","M0,0","circle","diamond","M0,0","circle","diamond","M0,0","circle","diamond"]}, "legend": {"title": null, "orient": "none", "legendX": 546, "legendY": -12, "padding": 0, "labelFontSize": 17.5, "labelOffset": 16, "labelLimit": 300, "symbolSize": 100, "rowPadding": 11, "symbolStrokeColor": "#2b2b2b", "symbolStrokeWidth": 0.8, "labelExpr": "indexof(datum.label, 'gap') == 0 ? '' : datum.label"}}
                       }}
                    ]
                  },
                  {
                    "data": {"name": "brackets"},
                    "transform": [{"filter": "datum.gene == 'IL1A' && datum.time == '72h'"}],
                    "layer": [
                      {"mark": {"type": "rule", "strokeWidth": 1.5, "color": "#222"}, "encoding": {"x": {"field": "from", "type": "nominal", "title": null}, "x2": {"field": "to"}, "y": {"field": "y", "type": "quantitative", "title": null}}},
                      {"mark": {"type": "rule", "strokeWidth": 1.5, "color": "#222"}, "encoding": {"x": {"field": "from", "type": "nominal", "title": null}, "y": {"field": "y", "type": "quantitative", "title": null}, "y2": {"field": "ydrop"}}},
                      {"mark": {"type": "rule", "strokeWidth": 1.5, "color": "#222"}, "encoding": {"x": {"field": "to", "type": "nominal", "title": null}, "y": {"field": "y", "type": "quantitative", "title": null}, "y2": {"field": "ydrop"}}},
                      {"transform": [{"filter": "datum.span == 1"}], "mark": {"type": "text", "fontSize": 16, "fontWeight": "bold", "baseline": "alphabetic", "dy": -1}, "encoding": {"x": {"field": "mid", "type": "nominal", "title": null, "bandPosition": 1}, "y": {"field": "y", "type": "quantitative", "title": null}, "text": {"field": "label"}}}
                    ]
                  }
                ]
              }
            ]
          },
          {
            "title": {"text": "HMOX1", "fontSize": 15, "fontWeight": "bold", "fontStyle": "italic", "anchor": "middle", "frame": "bounds", "dx": 20, "offset": 9},
            "spacing": 0,
            "hconcat": [
              {
                "width": 225, "height": 177,
                "title": {"text": "24h", "fontSize": 13, "fontWeight": "bold", "frame": "group", "anchor": "middle", "offset": -8},
                "layer": [
                  {
                    "data": {"name": "scatter"},
                    "transform": [{"filter": "datum.gene == 'HMOX1' && datum.time == '24h'"}],
                    "layer": [
                      {"mark": {"type": "tick", "thickness": 4.5, "size": 26},
                       "encoding": {
                        "x": {"field": "group", "type": "nominal", "title": null, "scale": {"type": "band", "domain": ["C-ctrl","C-HNE","C-Ox","C-PONPC","C-POVPC"], "paddingInner": 0, "paddingOuter": 0.1}, "axis": {"labelFontSize": 9, "labelPadding": 5, "ticks": false, "domainWidth": 1.5, "labelAngle": 0}},
                        "y": {"aggregate": "mean", "field": "value", "type": "quantitative", "title": "Relative expression (B2M)", "scale": {"domain": [0, 8], "nice": false}, "axis": {"values": [0,2,4,6,8], "format": "d", "labelOverlap": false, "labelFontSize": 14, "labelFontWeight": "bold", "titleFontSize": 14, "titleFontWeight": "bold", "tickSize": 5, "tickWidth": 1.5, "domainWidth": 1.5, "labelPadding": 2, "titlePadding": 4, "minExtent": 28, "maxExtent": 28}},
                        "fill": {"field": "group", "type": "nominal", "scale": {"domain": ["C-ctrl","C-HNE","C-Ox","C-PONPC","C-POVPC"], "range": ["#8c8c8c","#138b13","#1b889a","#f7896c","#88148f"]}, "legend": null}
                       }},
                      {"mark": {"type": "point", "filled": true, "opacity": 1, "stroke": "#2b2b2b", "strokeWidth": 0.8, "size": 80},
                       "encoding": {
                        "x": {"field": "group", "type": "nominal", "title": null},
                        "xOffset": {"field": "rep", "type": "ordinal", "scale": {"domain": [1,2,3,4,5,6,7,8], "paddingOuter": 3}},
                        "y": {"field": "value", "type": "quantitative", "title": "Relative expression (B2M)", "axis": {"values": [0,2,4,6,8], "format": "d", "labelOverlap": false, "labelFontSize": 14, "labelFontWeight": "bold", "titleFontSize": 14, "titleFontWeight": "bold", "tickSize": 5, "tickWidth": 1.5, "domainWidth": 1.5, "labelPadding": 2, "titlePadding": 4, "minExtent": 28, "maxExtent": 28}},
                        "color": {"field": "series", "type": "nominal", "scale": {"domain": ["C-ctrl f38y","C-ctrl m27y","gap1","C-HNE f38y","C-HNE m27y","gap2","C-OxPAPC f38y","C-OxPAPC m27y","gap3","C-PONPC f38y","C-PONPC m27y","gap4","C-POVPC f38y","C-POVPC m27y"], "range": ["#d4d4d4","#7b7b7b","#ffffff","#0e7a10","#21c321","#ffffff","#127a8c","#9dc4f3","#ffffff","#f7800d","#fbc48d","#ffffff","#770e8b","#dd8ff0"]}, "legend": {"title": null, "orient": "none", "legendX": 546, "legendY": -12, "padding": 0, "labelFontSize": 17.5, "labelOffset": 16, "labelLimit": 300, "symbolSize": 100, "rowPadding": 11, "symbolStrokeColor": "#2b2b2b", "symbolStrokeWidth": 0.8, "labelExpr": "indexof(datum.label, 'gap') == 0 ? '' : datum.label"}},
                        "shape": {"field": "series", "type": "nominal", "scale": {"domain": ["C-ctrl f38y","C-ctrl m27y","gap1","C-HNE f38y","C-HNE m27y","gap2","C-OxPAPC f38y","C-OxPAPC m27y","gap3","C-PONPC f38y","C-PONPC m27y","gap4","C-POVPC f38y","C-POVPC m27y"], "range": ["circle","diamond","M0,0","circle","diamond","M0,0","circle","diamond","M0,0","circle","diamond","M0,0","circle","diamond"]}, "legend": {"title": null, "orient": "none", "legendX": 546, "legendY": -12, "padding": 0, "labelFontSize": 17.5, "labelOffset": 16, "labelLimit": 300, "symbolSize": 100, "rowPadding": 11, "symbolStrokeColor": "#2b2b2b", "symbolStrokeWidth": 0.8, "labelExpr": "indexof(datum.label, 'gap') == 0 ? '' : datum.label"}}
                       }}
                    ]
                  },
                  {
                    "data": {"name": "brackets"},
                    "transform": [{"filter": "datum.gene == 'HMOX1' && datum.time == '24h'"}],
                    "layer": [
                      {"mark": {"type": "rule", "strokeWidth": 1.5, "color": "#222"}, "encoding": {"x": {"field": "from", "type": "nominal", "title": null}, "x2": {"field": "to"}, "y": {"field": "y", "type": "quantitative", "title": null}}},
                      {"mark": {"type": "rule", "strokeWidth": 1.5, "color": "#222"}, "encoding": {"x": {"field": "from", "type": "nominal", "title": null}, "y": {"field": "y", "type": "quantitative", "title": null}, "y2": {"field": "ydrop"}}},
                      {"mark": {"type": "rule", "strokeWidth": 1.5, "color": "#222"}, "encoding": {"x": {"field": "to", "type": "nominal", "title": null}, "y": {"field": "y", "type": "quantitative", "title": null}, "y2": {"field": "ydrop"}}},
                      {"transform": [{"filter": "datum.span == 1"}], "mark": {"type": "text", "fontSize": 16, "fontWeight": "bold", "baseline": "alphabetic", "dy": -1}, "encoding": {"x": {"field": "mid", "type": "nominal", "title": null, "bandPosition": 1}, "y": {"field": "y", "type": "quantitative", "title": null}, "text": {"field": "label"}}},
                      {"transform": [{"filter": "datum.span == 2"}], "mark": {"type": "text", "fontSize": 16, "fontWeight": "bold", "baseline": "alphabetic", "dy": -1}, "encoding": {"x": {"field": "mid", "type": "nominal", "title": null, "bandPosition": 0.5}, "y": {"field": "y", "type": "quantitative", "title": null}, "text": {"field": "label"}}}
                    ]
                  }
                ]
              },
              {
                "width": 225, "height": 177,
                "title": {"text": "72h", "fontSize": 13, "fontWeight": "bold", "frame": "group", "anchor": "middle", "offset": -8},
                "layer": [
                  {
                    "data": {"name": "scatter"},
                    "transform": [{"filter": "datum.gene == 'HMOX1' && datum.time == '72h'"}],
                    "layer": [
                      {"mark": {"type": "tick", "thickness": 4.5, "size": 26},
                       "encoding": {
                        "x": {"field": "group", "type": "nominal", "title": null, "scale": {"type": "band", "domain": ["C-ctrl","C-HNE","C-Ox","C-PONPC","C-POVPC"], "paddingInner": 0, "paddingOuter": 0.1}, "axis": {"labelFontSize": 9, "labelPadding": 5, "ticks": false, "domainWidth": 1.5, "labelAngle": 0}},
                        "y": {"aggregate": "mean", "field": "value", "type": "quantitative", "title": null, "scale": {"domain": [0, 8], "nice": false}, "axis": {"labels": false, "ticks": false, "domainWidth": 1.5}},
                        "fill": {"field": "group", "type": "nominal", "scale": {"domain": ["C-ctrl","C-HNE","C-Ox","C-PONPC","C-POVPC"], "range": ["#8c8c8c","#138b13","#1b889a","#f7896c","#88148f"]}, "legend": null}
                       }},
                      {"mark": {"type": "point", "filled": true, "opacity": 1, "stroke": "#2b2b2b", "strokeWidth": 0.8, "size": 80},
                       "encoding": {
                        "x": {"field": "group", "type": "nominal", "title": null},
                        "xOffset": {"field": "rep", "type": "ordinal", "scale": {"domain": [1,2,3,4,5,6,7,8], "paddingOuter": 3}},
                        "y": {"field": "value", "type": "quantitative", "title": null},
                        "color": {"field": "series", "type": "nominal", "scale": {"domain": ["C-ctrl f38y","C-ctrl m27y","gap1","C-HNE f38y","C-HNE m27y","gap2","C-OxPAPC f38y","C-OxPAPC m27y","gap3","C-PONPC f38y","C-PONPC m27y","gap4","C-POVPC f38y","C-POVPC m27y"], "range": ["#d4d4d4","#7b7b7b","#ffffff","#0e7a10","#21c321","#ffffff","#127a8c","#9dc4f3","#ffffff","#f7800d","#fbc48d","#ffffff","#770e8b","#dd8ff0"]}, "legend": {"title": null, "orient": "none", "legendX": 546, "legendY": -12, "padding": 0, "labelFontSize": 17.5, "labelOffset": 16, "labelLimit": 300, "symbolSize": 100, "rowPadding": 11, "symbolStrokeColor": "#2b2b2b", "symbolStrokeWidth": 0.8, "labelExpr": "indexof(datum.label, 'gap') == 0 ? '' : datum.label"}},
                        "shape": {"field": "series", "type": "nominal", "scale": {"domain": ["C-ctrl f38y","C-ctrl m27y","gap1","C-HNE f38y","C-HNE m27y","gap2","C-OxPAPC f38y","C-OxPAPC m27y","gap3","C-PONPC f38y","C-PONPC m27y","gap4","C-POVPC f38y","C-POVPC m27y"], "range": ["circle","diamond","M0,0","circle","diamond","M0,0","circle","diamond","M0,0","circle","diamond","M0,0","circle","diamond"]}, "legend": {"title": null, "orient": "none", "legendX": 546, "legendY": -12, "padding": 0, "labelFontSize": 17.5, "labelOffset": 16, "labelLimit": 300, "symbolSize": 100, "rowPadding": 11, "symbolStrokeColor": "#2b2b2b", "symbolStrokeWidth": 0.8, "labelExpr": "indexof(datum.label, 'gap') == 0 ? '' : datum.label"}}
                       }}
                    ]
                  },
                  {
                    "data": {"name": "brackets"},
                    "transform": [{"filter": "datum.gene == 'HMOX1' && datum.time == '72h'"}],
                    "layer": [
                      {"mark": {"type": "rule", "strokeWidth": 1.5, "color": "#222"}, "encoding": {"x": {"field": "from", "type": "nominal", "title": null}, "x2": {"field": "to"}, "y": {"field": "y", "type": "quantitative", "title": null}}},
                      {"mark": {"type": "rule", "strokeWidth": 1.5, "color": "#222"}, "encoding": {"x": {"field": "from", "type": "nominal", "title": null}, "y": {"field": "y", "type": "quantitative", "title": null}, "y2": {"field": "ydrop"}}},
                      {"mark": {"type": "rule", "strokeWidth": 1.5, "color": "#222"}, "encoding": {"x": {"field": "to", "type": "nominal", "title": null}, "y": {"field": "y", "type": "quantitative", "title": null}, "y2": {"field": "ydrop"}}},
                      {"transform": [{"filter": "datum.span == 1"}], "mark": {"type": "text", "fontSize": 16, "fontWeight": "bold", "baseline": "alphabetic", "dy": -1}, "encoding": {"x": {"field": "mid", "type": "nominal", "title": null, "bandPosition": 1}, "y": {"field": "y", "type": "quantitative", "title": null}, "text": {"field": "label"}}}
                    ]
                  }
                ]
              }
            ]
          }
        ]
      }
    ]
  },
  {
    "title": {"text": "B", "fontSize": 30, "fontWeight": "bold", "anchor": "start", "frame": "bounds", "dx": -35, "dy": 20, "offset": 0},
    "spacing": -13,
    "hconcat": [
      {
        "width": 24, "height": 705,
        "data": {"name": "annot"},
        "layer": [
          {"mark": {"type": "rule", "strokeWidth": 2, "color": "#000"},
           "encoding": {
             "x": {"field": "level", "type": "quantitative", "scale": {"domain": [1, 2]}, "axis": null},
             "y": {"field": "start", "type": "nominal", "scale": {"type": "band", "domain": ["LMNB1","CDK1","CDKN2A","CDKN1A","HMGB1","MMP1","MMP3","MMP9","IL1A","IL8","TNFA","HMOX1","COL17A1","KRT10","KRT14"], "paddingInner": 0, "paddingOuter": 0}, "axis": null, "bandPosition": 0.15},
             "y2": {"field": "end", "bandPosition": 0.85}
           }},
          {"mark": {"type": "text", "angle": 270, "fontSize": 22, "dy": -19, "baseline": "middle", "align": "center", "color": "#000"},
           "encoding": {
             "x": {"field": "level", "type": "quantitative", "axis": null},
             "y": {"field": "textrow", "type": "nominal", "bandPosition": 0.1, "axis": null},
             "text": {"field": "name"}
           }}
        ]
      },
      {
        "title": {"text": "Keratinocytes cultured on mod. collagen IV", "fontSize": 22, "fontWeight": "bold", "font": "DejaVu Sans Condensed", "anchor": "middle", "frame": "bounds", "offset": 0},
        "spacing": 23,
        "resolve": {"legend": {"fill": "independent"}},
        "hconcat": [
          {
            "width": 236, "height": 705,
            "title": {"text": "24h", "fontSize": 22, "fontWeight": "bold", "font": "DejaVu Sans Condensed", "frame": "group", "anchor": "middle", "offset": 1},
            "layer": [
              {"data": {"name": "heat"}, "transform": [{"filter": "datum.time == '24h'"}],
               "mark": {"type": "rect", "stroke": "#333", "strokeWidth": 1.2, "width": 47.2, "height": 47},
               "encoding": {
                 "x": {"field": "treatment", "type": "nominal", "title": null, "scale": {"type": "band", "domain": ["C-ctrl","C-HNE","C-OxPAPC","C-PONPC","C-POVPC"], "paddingInner": 0, "paddingOuter": 0}, "axis": {"labelAngle": -45, "labelFontSize": 17, "labelFontWeight": "bold", "tickSize": 9, "tickWidth": 1.2, "domain": false, "labelPadding": 2}},
                 "y": {"field": "gene", "type": "nominal", "title": null, "scale": {"type": "band", "domain": ["LMNB1","CDK1","CDKN2A","CDKN1A","HMGB1","MMP1","MMP3","MMP9","IL1A","IL8","TNFA","HMOX1","COL17A1","KRT10","KRT14"], "paddingInner": 0, "paddingOuter": 0}, "axis": {"labelFontSize": 17, "labelFontWeight": "bold", "labelFontStyle": "italic", "tickSize": 9, "tickWidth": 1.2, "domain": false, "labelPadding": 3, "minExtent": 88, "maxExtent": 88}},
                 "fill": {"field": "value", "type": "quantitative", "scale": {"type": "linear", "domain": [-2, 0, 2], "range": ["#3f46d1", "#ffffff", "#b2191e"], "interpolate": "rgb"}, "legend": null}
               }},
              {"data": {"name": "heatsig"}, "transform": [{"filter": "datum.time == '24h' && indexof(datum.label, '*') == 0"}],
               "mark": {"type": "text", "fontSize": 20, "dy": 5, "color": "#000"},
               "encoding": {
                 "x": {"field": "treatment", "type": "nominal", "title": null, "scale": {"type": "band", "domain": ["C-ctrl","C-HNE","C-OxPAPC","C-PONPC","C-POVPC"], "paddingInner": 0, "paddingOuter": 0}},
                 "y": {"field": "gene", "type": "nominal", "title": null, "scale": {"type": "band", "domain": ["LMNB1","CDK1","CDKN2A","CDKN1A","HMGB1","MMP1","MMP3","MMP9","IL1A","IL8","TNFA","HMOX1","COL17A1","KRT10","KRT14"], "paddingInner": 0, "paddingOuter": 0}},
                 "text": {"field": "label"}
               }}
            ]
          },
          {
            "width": 236, "height": 705,
            "title": {"text": "72h", "fontSize": 22, "fontWeight": "bold", "font": "DejaVu Sans Condensed", "frame": "group", "anchor": "middle", "offset": 1},
            "layer": [
              {"data": {"name": "heat"}, "transform": [{"filter": "datum.time == '72h'"}],
               "mark": {"type": "rect", "stroke": "#333", "strokeWidth": 1.2, "width": 47.2, "height": 47},
               "encoding": {
                 "x": {"field": "treatment", "type": "nominal", "title": null, "scale": {"type": "band", "domain": ["C-ctrl","C-HNE","C-OxPAPC","C-PONPC","C-POVPC"], "paddingInner": 0, "paddingOuter": 0}, "axis": {"labelAngle": -45, "labelFontSize": 17, "labelFontWeight": "bold", "tickSize": 9, "tickWidth": 1.2, "domain": false, "labelPadding": 2}},
                 "y": {"field": "gene", "type": "nominal", "title": null, "scale": {"type": "band", "domain": ["LMNB1","CDK1","CDKN2A","CDKN1A","HMGB1","MMP1","MMP3","MMP9","IL1A","IL8","TNFA","HMOX1","COL17A1","KRT10","KRT14"], "paddingInner": 0, "paddingOuter": 0}, "axis": null},
                 "fill": {"field": "value", "type": "quantitative", "scale": {"type": "linear", "domain": [-2, 0, 2], "range": ["#3f46d1", "#ffffff", "#b2191e"], "interpolate": "rgb"}, "legend": {"title": null, "orient": "right", "offset": 30, "padding": 0, "direction": "vertical", "gradientLength": 705, "gradientThickness": 30, "gradientStrokeColor": "#444", "gradientStrokeWidth": 1, "values": [-2, -1, 0, 1, 2], "labelFontSize": 21, "labelOffset": 12, "labelBaseline": "middle", "labelExpr": "'' + datum.value"}}
               }},
              {"data": {"name": "heatsig"}, "transform": [{"filter": "datum.time == '72h' && indexof(datum.label, '*') == 0"}],
               "mark": {"type": "text", "fontSize": 20, "dy": 5, "color": "#000"},
               "encoding": {
                 "x": {"field": "treatment", "type": "nominal", "title": null, "scale": {"type": "band", "domain": ["C-ctrl","C-HNE","C-OxPAPC","C-PONPC","C-POVPC"], "paddingInner": 0, "paddingOuter": 0}},
                 "y": {"field": "gene", "type": "nominal", "title": null, "scale": {"type": "band", "domain": ["LMNB1","CDK1","CDKN2A","CDKN1A","HMGB1","MMP1","MMP3","MMP9","IL1A","IL8","TNFA","HMOX1","COL17A1","KRT10","KRT14"], "paddingInner": 0, "paddingOuter": 0}},
                 "text": {"field": "label"}
               }},
              {"data": {"name": "heatsig"}, "transform": [{"filter": "datum.time == '72h' && indexof(datum.label, '*') != 0"}],
               "mark": {"type": "text", "fontSize": 11.5, "color": "#000"},
               "encoding": {
                 "x": {"field": "treatment", "type": "nominal", "title": null, "scale": {"type": "band", "domain": ["C-ctrl","C-HNE","C-OxPAPC","C-PONPC","C-POVPC"], "paddingInner": 0, "paddingOuter": 0}},
                 "y": {"field": "gene", "type": "nominal", "title": null, "scale": {"type": "band", "domain": ["LMNB1","CDK1","CDKN2A","CDKN1A","HMGB1","MMP1","MMP3","MMP9","IL1A","IL8","TNFA","HMOX1","COL17A1","KRT10","KRT14"], "paddingInner": 0, "paddingOuter": 0}},
                 "text": {"field": "label"}
               }}
            ]
          }
        ]
      }
    ]
  }
]
}
